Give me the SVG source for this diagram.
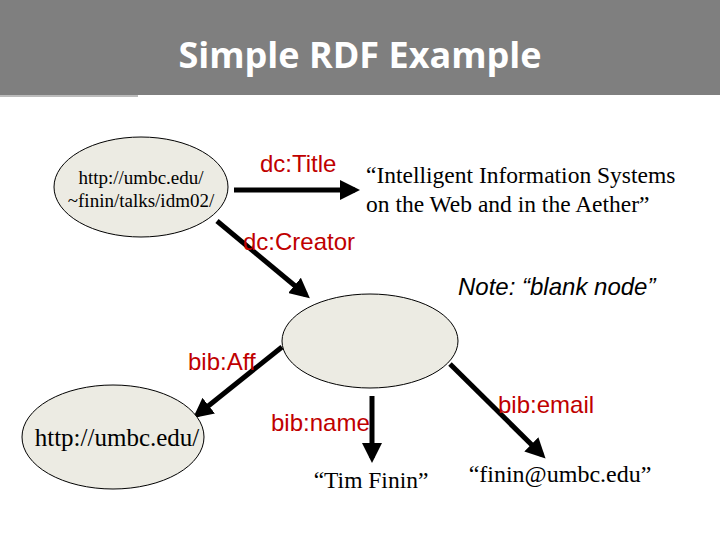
<svg xmlns="http://www.w3.org/2000/svg" width="720" height="540" viewBox="0 0 720 540">
<style>
.node{fill:#ecebe3;stroke:#000;stroke-width:1}
.lbl{font-family:"Liberation Sans",Arial,sans-serif;font-size:24px;fill:#c00000}
.lit{font-family:"Liberation Serif","Times New Roman",serif;font-size:23.5px;fill:#000}
.edge{stroke:#000;stroke-width:5;fill:none;marker-end:url(#ah)}
</style>
<defs><marker id="ah" markerWidth="4" markerHeight="4" refX="3" refY="2" orient="auto"><path d="M0,0 L4,2 L0,4 z" fill="#000"/></marker></defs>
<rect width="720" height="540" fill="#fff"/>
<rect width="720" height="95" fill="#7f7f7f"/>
<line x1="0" y1="96" x2="138" y2="96" stroke="#bbb" stroke-width="2"/>
<text x="360" y="68" text-anchor="middle" font-family="'Open Sans','Noto Sans',sans-serif" font-size="36" font-weight="bold" fill="#fff">Simple RDF Example</text>
<g id="edges">
<line class="edge" x1="234" y1="190" x2="355" y2="190"/>
<line class="edge" x1="217" y1="221" x2="306" y2="295"/>
<line class="edge" x1="282" y1="347" x2="197" y2="415"/>
<line class="edge" x1="372" y1="396" x2="372" y2="458"/>
<line class="edge" x1="450" y1="364" x2="542" y2="455"/>
</g>
<g id="lbls">
<text class="lbl" x="260" y="172">dc:Title</text>
<text class="lbl" x="243" y="250">dc:Creator</text>
<text class="lbl" x="188" y="370">bib:Aff</text>
<text class="lbl" x="271" y="431">bib:name</text>
<text class="lbl" x="498" y="413">bib:email</text>
</g>
<g id="n1"><ellipse class="node" cx="141" cy="187" rx="87" ry="50"/>
<text class="lit" x="141" y="184" text-anchor="middle" style="font-size:19px">http://umbc.edu/</text>
<text class="lit" x="141" y="207" text-anchor="middle" style="font-size:19px">~finin/talks/idm02/</text></g>
<g id="title"><text class="lit" x="366" y="183">“Intelligent Information Systems</text>
<text class="lit" x="366" y="212">on the Web and in the Aether”</text></g>
<g id="blank"><ellipse class="node" cx="370" cy="341" rx="88" ry="47"/></g>
<g id="note"><text x="458" y="295" font-family="'Liberation Sans',Arial,sans-serif" font-size="24" font-style="italic">Note: “blank node”</text></g>
<g id="aff"><ellipse class="node" cx="113" cy="437" rx="91" ry="52"/>
<text class="lit" x="117" y="446" style="font-size:25px" text-anchor="middle">http://umbc.edu/</text></g>
<g id="name"><text class="lit" x="371" y="488" text-anchor="middle">“Tim Finin”</text></g>
<g id="email"><text class="lit" x="560" y="482" style="font-size:24px" text-anchor="middle">“finin@umbc.edu”</text></g>
</svg>
